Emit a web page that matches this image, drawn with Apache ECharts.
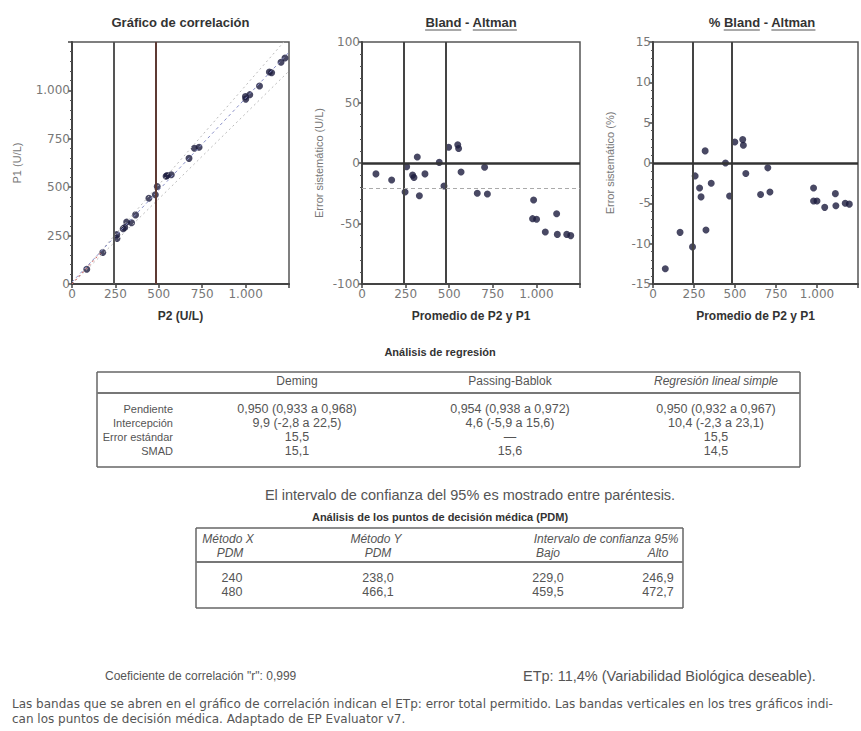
<!DOCTYPE html>
<html><head><meta charset="utf-8">
<script src="https://cdn.jsdelivr.net/npm/echarts@6/dist/echarts.min.js"></script>
<style>html,body{margin:0;padding:0;background:#fff}#c{width:861px;height:731px}</style>
</head><body><div id="c"></div>
<script>
// ---------------- data ----------------
const mdp = [240, 480];
const corrP2 = [85,177,259,258,295,304,315,343,366,443,480,491,542,548,572,674,705,732,999,1001,1024,1080,1137,1150,1204,1227];
const corrP1 = [76,163,235,255,285,292,320,316,357,443,461,504,557,560,564,649,701,706,968,955,978,1023,1095,1091,1145,1167];
const baAvg  = [80,170,247,256,290,298,317,329,361,443,470,497,549,554,568,661,703,719,984,978,1001,1051,1116,1120,1174,1197];
const baDiff = [-9,-14,-24,-3,-10,-12,5,-27,-9,0.5,-19,13,15,12,-7.5,-25,-3.5,-25.6,-30.6,-46,-46.5,-57,-42,-59,-59,-60];
const pctAvg = [75,165,241,257,284,293,318,323,355,442,467,499,547,551,566,656,700,713,979,979,1000,1047,1112,1115,1172,1197];
const pctDiff= [-13.1,-8.6,-10.4,-1.6,-3.1,-4.2,1.5,-8.3,-2.5,0,-4.1,2.6,2.9,2.2,-1.3,-3.9,-0.6,-3.6,-3.1,-4.7,-4.7,-5.5,-3.8,-5.3,-5.0,-5.1];
const meanBias = -21;
const regLine = [[0,9.9],[1250,1197.4]];
const bandUpper = [[0,0],[1220,1250]];
const bandLower = [[0,0],[1250,1100]];
const lowSeg = [[0,0],[170,165]];

const xTicks = [0,250,500,750,1000];
const titles = ['Gráfico de correlación','Bland - Altman','% Bland - Altman'];
const xNames = ['P2 (U/L)','Promedio de P2 y P1','Promedio de P2 y P1'];
const yNames = ['P1 (U/L)','Error sistemático (U/L)','Error sistemático (%)'];

const regTitle = 'Análisis de regresión';
const regCols = ['Deming','Passing-Bablok','Regresión lineal simple'];
const regRows = ['Pendiente','Intercepción','Error estándar','SMAD'];
const regDeming = ['0,950 (0,933 a 0,968)','9,9 (-2,8 a 22,5)','15,5','15,1'];
const regPB = ['0,954 (0,938 a 0,972)','4,6 (-5,9 a 15,6)','—','15,6'];
const regRLS = ['0,950 (0,932 a 0,967)','10,4 (-2,3 a 23,1)','15,5','14,5'];
const regNote = 'El intervalo de confianza del 95% es mostrado entre paréntesis.';

const pdmTitle = 'Análisis de los puntos de decisión médica (PDM)';
const pdmHead1 = ['Método X','Método Y','Intervalo de confianza 95%'];
const pdmHead2 = ['PDM','PDM','Bajo','Alto'];
const pdmX = ['240','480'];
const pdmY = ['238,0','466,1'];
const pdmLow = ['229,0','459,5'];
const pdmHigh = ['246,9','472,7'];

const corrText = 'Coeficiente de correlación "r": 0,999';
const etpText = 'ETp: 11,4% (Variabilidad Biológica deseable).';
const foot1 = 'Las bandas que se abren en el gráfico de correlación indican el ETp: error total permitido. Las bandas verticales en los tres gráficos indi-';
const foot2 = 'can los puntos de decisión médica. Adaptado de EP Evaluator v7.';

// ---------------- layout ----------------
const FONT = '"Liberation Sans", Arial, sans-serif';
const WIDE = '"DejaVu Sans", sans-serif';
const grids = [
  {left:72, top:42, width:217, height:242},
  {left:362, top:42, width:218, height:242},
  {left:653, top:42, width:218, height:242}
];
const yRanges = [[0,1250,250],[-100,100,50],[-15,15,5]];
const yNameGaps = [50,38,38];

function fmt(v){ return Math.abs(v)>=1000 ? String(v).replace(/(\d)(\d{3})$/,'$1.$2') : String(v); }

const xAxes = grids.map((g,i)=>({
  type:'value', gridIndex:i, min:0, max:1250, interval:250,
  name:xNames[i], nameLocation:'middle', nameGap:26,
  nameTextStyle:{fontFamily:FONT, fontWeight:'bold', fontSize:12, color:'#333'},
  axisLine:{show:true, onZero:false, lineStyle:{color:'#444', width:2}},
  axisTick:{show:true, length:4, lineStyle:{color:'#444', width:1.5}},
  axisLabel:{fontFamily:WIDE, fontSize:12, color:'#777', margin:4,
    formatter:v=> xTicks.indexOf(v)>=0 ? fmt(v) : ''},
  splitLine:{show:false}
}));
const yAxes = grids.map((g,i)=>({
  type:'value', gridIndex:i, min:yRanges[i][0], max:yRanges[i][1], interval:yRanges[i][2],
  name:yNames[i], nameLocation:'middle', nameGap:yNameGaps[i], nameRotate:90,
  nameTextStyle:{fontFamily:FONT, fontSize:11, color:'#777'},
  axisLine:{show:true, onZero:false, lineStyle:{color:'#444', width:2}},
  axisTick:{show:true, length:4, lineStyle:{color:'#444', width:1.5}},
  minorTick:{show:true, splitNumber:5, length:2, lineStyle:{color:'#555'}},
  axisLabel:{fontFamily:WIDE, fontSize:12, color:'#777', margin:2,
    formatter:v=> (i===0 && v===1250) ? '' : fmt(v)},
  splitLine:{show:false}
}));

const dotStyle = {color:'#1b1b3d'};

const series = [
  {type:'line', xAxisIndex:0, yAxisIndex:0, data:bandUpper, showSymbol:false, silent:true,
   lineStyle:{color:'#bbb', width:1, type:[2,3]}},
  {type:'line', xAxisIndex:0, yAxisIndex:0, data:bandLower, showSymbol:false, silent:true,
   lineStyle:{color:'#bbb', width:1, type:[2,3]}},
  {type:'line', xAxisIndex:0, yAxisIndex:0, data:regLine, showSymbol:false, silent:true,
   lineStyle:{color:'#8a90c8', width:1, type:[3,3]}},
  {type:'line', xAxisIndex:0, yAxisIndex:0, data:lowSeg, showSymbol:false, silent:true,
   lineStyle:{color:'#d66', width:1, type:[2,3]}},
  {type:'scatter', xAxisIndex:0, yAxisIndex:0, symbolSize:7, itemStyle:dotStyle,
   data:corrP2.map((x,k)=>[x,corrP1[k]]),
   markLine:{silent:true, symbol:'none', label:{show:false},
     data: mdp.map((v,k)=>({xAxis:v, lineStyle:{color:k?'#5e3a34':'#555', width:2, type:'solid'}}))}},
  {type:'scatter', xAxisIndex:1, yAxisIndex:1, symbolSize:7, itemStyle:dotStyle,
   data:baAvg.map((x,k)=>[x,baDiff[k]]),
   markLine:{silent:true, symbol:'none', label:{show:false}, data:[
     ...mdp.map(v=>({xAxis:v, lineStyle:{color:'#444', width:2, type:'solid'}})),
     {yAxis:0, lineStyle:{color:'#333', width:2.5, type:'solid'}},
     {yAxis:meanBias, lineStyle:{color:'#aaa', width:1, type:[4,3]}}
   ]}},
  {type:'scatter', xAxisIndex:2, yAxisIndex:2, symbolSize:7, itemStyle:dotStyle,
   data:pctAvg.map((x,k)=>[x,pctDiff[k]]),
   markLine:{silent:true, symbol:'none', label:{show:false}, data:[
     ...mdp.map(v=>({xAxis:v, lineStyle:{color:'#444', width:2, type:'solid'}})),
     {yAxis:0, lineStyle:{color:'#333', width:2.5, type:'solid'}}
   ]}}
];

// ---------------- graphic (titles, tables, notes) ----------------
const G = [];
const mctx = document.createElement('canvas').getContext('2d');
function tw(s, font){ mctx.font = font; return mctx.measureText(s).width; }
function T(x, y, s, o){
  o = o || {};
  const size = o.size || 12, weight = o.bold ? 'bold ' : '', ital = o.italic ? 'italic ' : '';
  const font = ital + weight + size + 'px ' + (o.family || FONT);
  const al = o.align || 'left';
  G.push({type:'text', x:x, y:y, silent:true, style:{text:s, font:font, fill:o.color||'#555',
    align:al, verticalAlign:'middle', textAlign:al, textVerticalAlign:'middle'}});
  return font;
}
function L(x1,y1,x2,y2,w,c){ G.push({type:'line', silent:true, shape:{x1,y1,x2,y2}, style:{stroke:c||'#555', lineWidth:w||1}}); }

// chart titles with underlines
titles.forEach((t,i)=>{
  const cx = grids[i].left + grids[i].width/2;
  const font = T(cx, 22, t, {size:13, bold:true, color:'#333', align:'center'});
  if (i>0){
    const full = tw(t, font), x0 = cx - full/2;
    ['Bland','Altman'].forEach(w=>{
      const idx = t.indexOf(w);
      const a = x0 + tw(t.slice(0,idx), font), b = a + tw(w, font);
      L(a, 30, b, 30, 1, '#555');
    });
  }
});

// regression table
T(440, 352, regTitle, {size:11, bold:true, color:'#333', align:'center'});
const tb1 = {l:97, r:800, t:372, b:467, sep:393};
L(tb1.l, tb1.t, tb1.r, tb1.t, 1.5, '#666');
L(tb1.l, tb1.b, tb1.r, tb1.b, 1.5, '#666');
L(tb1.l, tb1.t, tb1.l, tb1.b, 1.5, '#666');
L(tb1.r, tb1.t, tb1.r, tb1.b, 1.5, '#666');
L(tb1.l, tb1.sep, tb1.r, tb1.sep, 2, '#777');
const colX = [297, 510, 716];
regCols.forEach((c,k)=> T(colX[k], 381, c, {size:12, align:'center', italic:k===2}));
const rowY = [409, 423, 437, 451];
regRows.forEach((r,k)=>{
  T(173, rowY[k], r, {size:11, align:'right'});
  T(colX[0], rowY[k], regDeming[k], {size:12.5, align:'center'});
  T(colX[1], rowY[k], regPB[k], {size:12.5, align:'center'});
  T(colX[2], rowY[k], regRLS[k], {size:12.5, align:'center'});
});
T(470, 495, regNote, {size:14.5, align:'center'});

// PDM table
T(440, 517, pdmTitle, {size:11, bold:true, color:'#333', align:'center'});
const tb2 = {l:196, r:683, t:528, b:608, sep:562};
L(tb2.l, tb2.t, tb2.r, tb2.t, 1.5, '#666');
L(tb2.l, tb2.b, tb2.r, tb2.b, 1.5, '#666');
L(tb2.l, tb2.t, tb2.l, tb2.b, 1.5, '#666');
L(tb2.r, tb2.t, tb2.r, tb2.b, 1.5, '#666');
L(tb2.l, tb2.sep, tb2.r, tb2.sep, 2, '#777');
const h1X = [228, 376, 606];
pdmHead1.forEach((h,k)=> T(h1X[k], 539, h, {size:12, italic:true, align:'center'}));
const h2X = [230, 378, 548, 658];
pdmHead2.forEach((h,k)=> T(h2X[k], 553, h, {size:12, italic:true, align:'center'}));
const pdmRowY = [578, 592];
pdmX.forEach((v,k)=>{
  T(h2X[0]+2, pdmRowY[k], v, {size:12.5, align:'center'});
  T(h2X[1], pdmRowY[k], pdmY[k], {size:12.5, align:'center'});
  T(h2X[2], pdmRowY[k], pdmLow[k], {size:12.5, align:'center'});
  T(h2X[3], pdmRowY[k], pdmHigh[k], {size:12.5, align:'center'});
});

// notes
T(105, 676, corrText, {size:12});
T(523, 676, etpText, {size:14.5});
T(12, 704, foot1, {size:12, family:WIDE});
T(12, 719, foot2, {size:12, family:WIDE});

const chart = echarts.init(document.getElementById('c'), null, {renderer:'svg'});
chart.setOption({
  animation:false,
  backgroundColor:'#fff',
  grid: grids.map(g=>Object.assign({show:true, borderColor:'#555', borderWidth:1.5, containLabel:false}, g)),
  xAxis: xAxes,
  yAxis: yAxes,
  series: series,
  graphic: G
});
</script>
</body></html>
